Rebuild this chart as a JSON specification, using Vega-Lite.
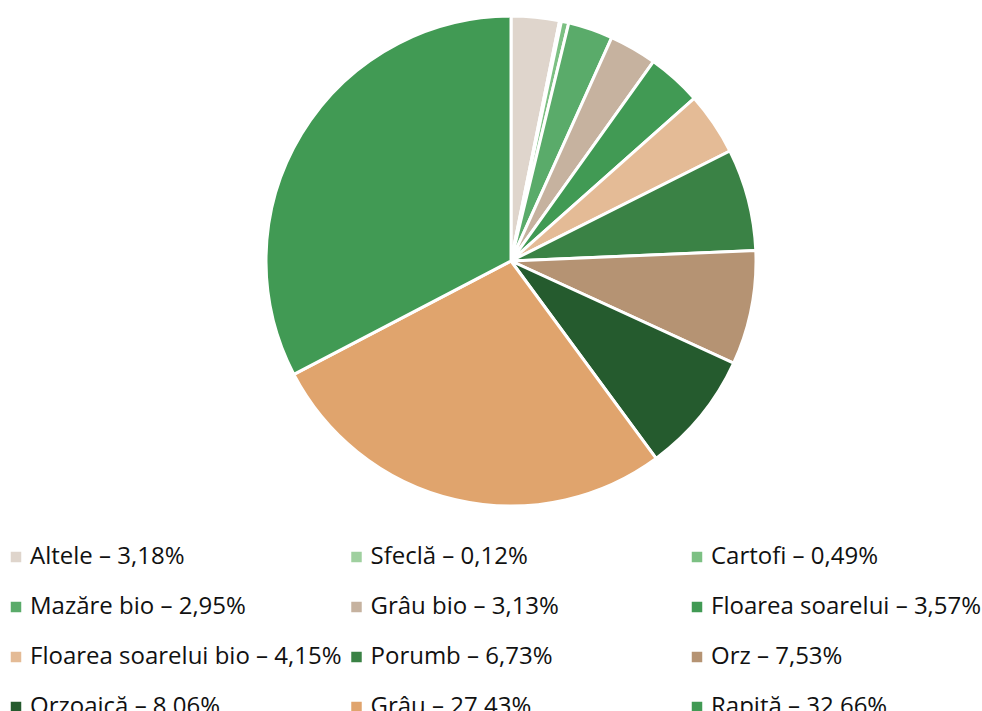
{
  "$schema": "https://vega.github.io/schema/vega-lite/v6.json",
  "width": 942,
  "height": 522,
  "autosize": {"type": "none"},
  "padding": {"left": 40, "top": 0, "right": 0, "bottom": 189},
  "background": "white",
  "config": {"view": {"stroke": null}},
  "data": {
    "values": [
      {"idx": 1, "name": "Altele", "value": 3.18, "label": "Altele – 3,18%"},
      {"idx": 2, "name": "Sfeclă", "value": 0.12, "label": "Sfeclă – 0,12%"},
      {"idx": 3, "name": "Cartofi", "value": 0.49, "label": "Cartofi – 0,49%"},
      {"idx": 4, "name": "Mazăre bio", "value": 2.95, "label": "Mazăre bio – 2,95%"},
      {"idx": 5, "name": "Grâu bio", "value": 3.13, "label": "Grâu bio – 3,13%"},
      {"idx": 6, "name": "Floarea soarelui", "value": 3.57, "label": "Floarea soarelui – 3,57%"},
      {"idx": 7, "name": "Floarea soarelui bio", "value": 4.15, "label": "Floarea soarelui bio – 4,15%"},
      {"idx": 8, "name": "Porumb", "value": 6.73, "label": "Porumb – 6,73%"},
      {"idx": 9, "name": "Orz", "value": 7.53, "label": "Orz – 7,53%"},
      {"idx": 10, "name": "Orzoaică", "value": 8.06, "label": "Orzoaică – 8,06%"},
      {"idx": 11, "name": "Grâu", "value": 27.43, "label": "Grâu – 27,43%"},
      {"idx": 12, "name": "Rapiță", "value": 32.66, "label": "Rapiță – 32,66%"}
    ]
  },
  "mark": {"type": "arc", "outerRadius": 245, "stroke": "white", "strokeWidth": 3},
  "encoding": {
    "theta": {"field": "value", "type": "quantitative", "stack": true},
    "order": {"field": "idx", "type": "quantitative"},
    "color": {
      "field": "label",
      "type": "nominal",
      "scale": {
        "domain": ["Altele – 3,18%", "Sfeclă – 0,12%", "Cartofi – 0,49%", "Mazăre bio – 2,95%", "Grâu bio – 3,13%", "Floarea soarelui – 3,57%", "Floarea soarelui bio – 4,15%", "Porumb – 6,73%", "Orz – 7,53%", "Orzoaică – 8,06%", "Grâu – 27,43%", "Rapiță – 32,66%"],
        "range": ["#dfd5cc", "#9fd09f", "#7cc083", "#5aab6a", "#c6b29f", "#419a54", "#e4bb96", "#3a8245", "#b59373", "#255b2e", "#e0a46d", "#419a54"]
      },
      "legend": {
        "orient": "none",
        "legendX": -36,
        "legendY": 545,
        "direction": "horizontal",
        "columns": 3,
        "gridAlign": "all",
        "title": null,
        "symbolType": "square",
        "symbolSize": 110,
        "symbolStrokeWidth": 0,
        "labelFont": "Open Sans",
        "labelFontSize": 24,
        "labelColor": "#111111",
        "labelOffset": 2,
        "labelLimit": 400,
        "rowPadding": 26,
        "columnPadding": 2.5
      }
    }
  }
}
